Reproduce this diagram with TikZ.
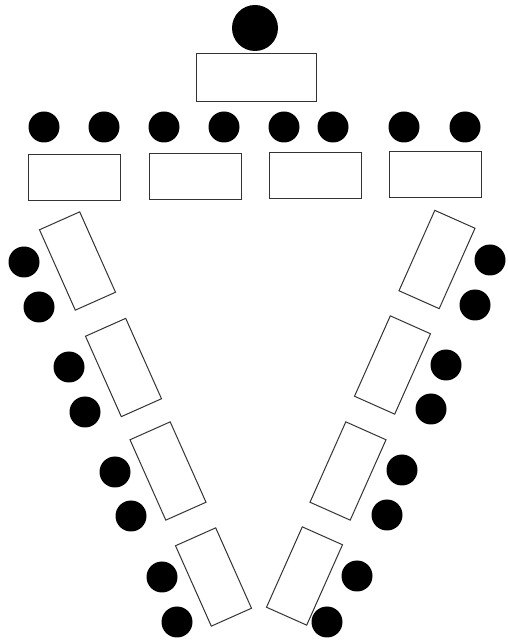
\documentclass[tikz,border=0pt]{standalone}
\begin{document}
\begin{tikzpicture}[x=1pt,y=1pt,
  tablebox/.style={draw=black!80,line width=1pt,rectangle,inner sep=0pt,fill=white},
  rowtable/.style={tablebox,minimum width=92pt,minimum height=46pt},
  sidetable/.style={tablebox,minimum width=44pt,minimum height=88pt},
  chair/.style={circle,fill=black,inner sep=0pt,minimum size=31pt},
  bigchair/.style={circle,fill=black,inner sep=0pt,minimum size=46pt}]
\useasboundingbox (0,0) rectangle (508,641);
% head table
\node[bigchair] (hc) at (255,613) {};
\node[tablebox,minimum width=120pt,minimum height=48pt] (ht) at (256.5,563.5) {};
% top row chairs
\node[chair] (c1) at (44,514) {};
\node[chair] (c2) at (104,514) {};
\node[chair] (c3) at (164,514) {};
\node[chair] (c4) at (224,514) {};
\node[chair] (c5) at (284,514) {};
\node[chair] (c6) at (333,514) {};
\node[chair] (c7) at (404,514) {};
\node[chair] (c8) at (465,514) {};
% top row tables
\node[rowtable] (t1) at (74.5,463.5) {};
\node[rowtable] (t2) at (195,464) {};
\node[rowtable] (t3) at (315,465) {};
\node[rowtable] (t4) at (435,466) {};
% left side tables
\node[sidetable,rotate=24] (l1) at (77.5,380) {};
\node[sidetable,rotate=24] (l2) at (123.5,273.5) {};
\node[sidetable,rotate=24] (l3) at (168,170) {};
\node[sidetable,rotate=24] (l4) at (213.5,64) {};
% left side chairs
\node[chair] (lc1) at (24,379) {};
\node[chair] (lc2) at (39,334) {};
\node[chair] (lc3) at (69,274) {};
\node[chair] (lc4) at (85,229) {};
\node[chair] (lc5) at (115,169) {};
\node[chair] (lc6) at (131,125) {};
\node[chair] (lc7) at (162,64) {};
\node[chair] (lc8) at (177,19) {};
% right side tables
\node[sidetable,rotate=-24] (r1) at (437,381.5) {};
\node[sidetable,rotate=-24] (r2) at (392.5,276) {};
\node[sidetable,rotate=-24] (r3) at (348,170) {};
\node[sidetable,rotate=-24] (r4) at (304.5,65) {};
% right side chairs
\node[chair] (rc1) at (490,381) {};
\node[chair] (rc2) at (475,336) {};
\node[chair] (rc3) at (446,276) {};
\node[chair] (rc4) at (431,232) {};
\node[chair] (rc5) at (402,171) {};
\node[chair] (rc6) at (387,126) {};
\node[chair] (rc7) at (357,65) {};
\node[chair] (rc8) at (327,19) {};
\end{tikzpicture}
\end{document}
